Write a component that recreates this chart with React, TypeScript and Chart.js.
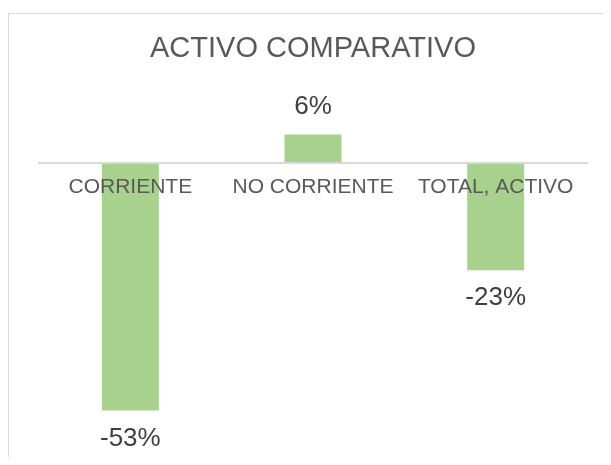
import React, { useEffect, useRef } from "react";
import { Chart, registerables } from "chart.js";

Chart.register(...registerables);

const categories: string[] = ["CORRIENTE", "NO CORRIENTE", "TOTAL, ACTIVO"];
const values: number[] = [-0.53, 0.06, -0.23];
const chartTitle = "ACTIVO COMPARATIVO";
const yMin = -0.6;
const yMax = 0.1;

const FONT = "'Liberation Sans', Arial, sans-serif";

const dataLabelPlugin = {
  id: "dataLabels",
  afterDraw(chart: any) {
    const ctx = chart.ctx;
    const meta = chart.getDatasetMeta(0);
    ctx.save();
    ctx.font = `26px ${FONT}`;
    ctx.fillStyle = "#404040";
    ctx.textAlign = "center";
    ctx.textBaseline = "middle";
    meta.data.forEach((bar: any, i: number) => {
      const v = chart.data.datasets[0].data[i] as number;
      const label = `${Math.round(v * 100)}%`;
      const y = v >= 0 ? bar.y - 28 : bar.y + 28;
      ctx.fillText(label, bar.x, y);
    });
    ctx.restore();
  },
};

export default function App() {
  const ref = useRef<HTMLCanvasElement | null>(null);

  useEffect(() => {
    document.documentElement.style.overflow = "hidden";
    if (!ref.current) return;
    const chart = new Chart(ref.current, {
      type: "bar",
      data: {
        labels: categories,
        datasets: [
          {
            data: values,
            backgroundColor: "#a9d18e",
            borderWidth: 0,
            barPercentage: 0.312,
            categoryPercentage: 1,
          },
        ],
      },
      options: {
        responsive: false,
        animation: false,
        layout: { padding: { left: 30, right: 24, top: 0, bottom: 18.7 } },
        plugins: {
          legend: { display: false },
          tooltip: { enabled: false },
          title: {
            display: true,
            text: chartTitle,
            color: "#595959",
            font: { family: FONT, size: 29, weight: "normal", lineHeight: 1.2 },
            padding: { top: 17.6, bottom: 49.3 },
          },
        },
        scales: {
          x: {
            position: { y: 0 } as any,
            offset: true,
            grid: { display: false, drawTicks: false },
            border: { display: true, color: "#d9d9d9", width: 2, z: 1 },
            ticks: {
              z: 2,
              color: "#595959",
              font: { family: FONT, size: 21 },
              padding: 12,
              maxRotation: 0,
              autoSkip: false,
            },
          },
          y: {
            display: false,
            min: yMin,
            max: yMax,
          },
        },
      },
      plugins: [dataLabelPlugin],
    });
    return () => chart.destroy();
  }, []);

  return (
    <div
      style={{
        position: "relative",
        top: 5,
        width: 603,
        height: 449,
        borderTop: "1px solid #d9d9d9",
        borderLeft: "1px solid #d9d9d9",
        boxSizing: "border-box",
        background: "#ffffff",
      }}
    >
      <canvas ref={ref} width={602} height={448} style={{ display: "block" }} />
    </div>
  );
}
